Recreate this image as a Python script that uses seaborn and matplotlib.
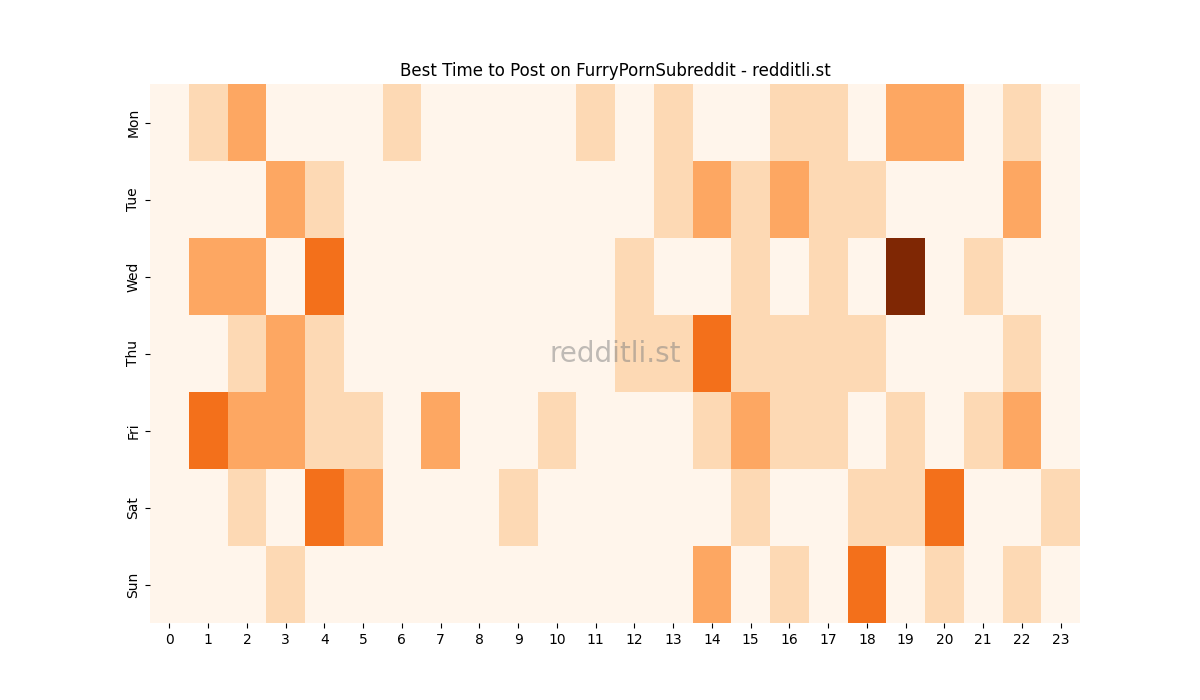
import matplotlib
matplotlib.use("Agg")
import matplotlib.pyplot as plt
import seaborn as sns
import pandas as pd

days = ["Mon", "Tue", "Wed", "Thu", "Fri", "Sat", "Sun"]
hours = list(range(24))
mon = [0,1,2,0,0,0,1,0,0,0,0,1,0,1,0,0,1,1,0,2,2,0,1,0]
tue = [0,0,0,2,1,0,0,0,0,0,0,0,0,1,2,1,2,1,1,0,0,0,2,0]
wed = [0,2,2,0,3,0,0,0,0,0,0,0,1,0,0,1,0,1,0,5,0,1,0,0]
thu = [0,0,1,2,1,0,0,0,0,0,0,0,1,1,3,1,1,1,1,0,0,0,1,0]
fri = [0,3,2,2,1,1,0,2,0,0,1,0,0,0,1,2,1,1,0,1,0,1,2,0]
sat = [0,0,1,0,3,2,0,0,0,1,0,0,0,0,0,1,0,0,1,1,3,0,0,1]
sun = [0,0,0,1,0,0,0,0,0,0,0,0,0,0,2,0,1,0,3,0,1,0,1,0]

df = pd.DataFrame([mon, tue, wed, thu, fri, sat, sun], index=days, columns=hours)

fig, ax = plt.subplots(figsize=(12, 7), dpi=100)
sns.heatmap(df, cmap="Oranges", vmin=0, vmax=5, cbar=False, ax=ax)
ax.set_title("Best Time to Post on FurryPornSubreddit - redditli.st")
ax.set_xlabel("")
ax.set_ylabel("")
ax.text(0.5, 0.5, "redditli.st", transform=ax.transAxes, ha="center", va="center",
        fontsize=20, color="grey", alpha=0.5)
fig.savefig("out.png")
